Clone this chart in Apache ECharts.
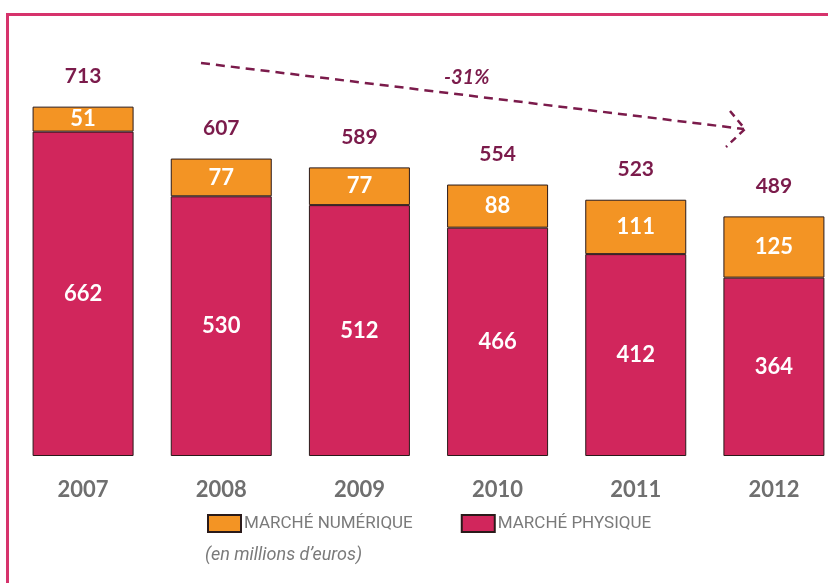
<!DOCTYPE html>
<html>
<head>
<meta charset="utf-8">
<script src="https://cdn.jsdelivr.net/npm/echarts@6/dist/echarts.min.js"></script>
<style>
  html, body { margin: 0; padding: 0; background: #fff; }
  #main { width: 828px; height: 583px; }
</style>
</head>
<body>
<div id="main"></div>
<script>
// données (en millions d'euros)
var years = ["2007", "2008", "2009", "2010", "2011", "2012"];
var physique = [662, 530, 512, 466, 412, 364];
var numerique = [51, 77, 77, 88, 111, 125];
var totals = [713, 607, 589, 554, 523, 489];

var myChart = echarts.init(document.getElementById("main"));

var pink = "#d1265c";
var orange = "#f39424";
var maroon = "#7b1b4b";

var option = {
  backgroundColor: "#fff",
  animation: false,
  textStyle: { fontFamily: "Lato" },
  grid: { left: 14, top: 64, width: 829, bottom: 127, outerBoundsMode: "none", containLabel: false },
  legend: {
    data: [
      { name: "MARCHÉ NUMÉRIQUE" },
      { name: "MARCHÉ PHYSIQUE" }
    ],
    left: 207,
    top: 514,
    icon: "rect",
    itemWidth: 33,
    itemHeight: 17,
    itemGap: 48,
    padding: 0,
    textStyle: { color: "#7a7a7a", fontSize: 17, fontFamily: "Roboto", padding: [0, 0, 0, -2] }
  },
  xAxis: {
    type: "category",
    data: years,
    axisLine: { show: false },
    axisTick: { show: false },
    axisLabel: { color: "#6f6f6f", fontSize: 22, fontWeight: "bold", margin: 23 }
  },
  yAxis: {
    type: "value",
    min: 0,
    max: 800,
    show: false,
    splitLine: { show: false }
  },
  series: [
    {
      name: "MARCHÉ PHYSIQUE",
      type: "bar",
      stack: "total",
      barWidth: 101,
      data: physique,
      itemStyle: { color: pink, borderColor: "#2a1a1a", borderWidth: 1 },
      label: {
        show: true,
        position: "inside",
        color: "#fff",
        fontSize: 22,
        fontWeight: "bold"
      }
    },
    {
      name: "MARCHÉ NUMÉRIQUE",
      type: "bar",
      stack: "total",
      barWidth: 101,
      data: numerique,
      itemStyle: { color: orange, borderColor: "#2a1a1a", borderWidth: 1 },
      label: {
        show: true,
        position: "inside",
        color: "#fff",
        fontSize: 22,
        fontWeight: "bold"
      }
    },
    {
      // totaux au-dessus des barres
      name: "total",
      type: "bar",
      stack: "total",
      barWidth: 101,
      data: totals.map(function () { return 0; }),
      itemStyle: { color: "transparent" },
      label: {
        show: true,
        position: "top",
        distance: 20,
        color: maroon,
        fontSize: 21,
        fontWeight: "bold",
        formatter: function (p) { return totals[p.dataIndex]; }
      },
      silent: true
    }
  ],
  graphic: [
    {
      type: "rect",
      shape: { x: 7.5, y: 14.5, width: 900, height: 700 },
      style: { fill: "none", stroke: "#d6336c", lineWidth: 3 },
      silent: true
    },
    {
      type: "line",
      shape: { x1: 201, y1: 63, x2: 744, y2: 129 },
      style: { stroke: maroon, lineWidth: 2.5, lineDash: [9, 6] }
    },
    {
      type: "polyline",
      shape: { points: [[730, 111], [745, 129], [726, 147]] },
      style: { stroke: maroon, fill: "none", lineWidth: 2.5, lineDash: [7, 5] }
    },
    {
      type: "text",
      left: 444,
      top: 68,
      style: {
        text: "-31%",
        fill: maroon,
        font: "italic bold 20px Lato"
      }
    },
    {
      type: "text",
      left: 205,
      top: 546,
      style: {
        text: "(en millions d\u2019euros)",
        fill: "#7a7a7a",
        font: "italic 18px Roboto"
      }
    }
  ]
};

option && myChart.setOption(option);
</script>
</body>
</html>
